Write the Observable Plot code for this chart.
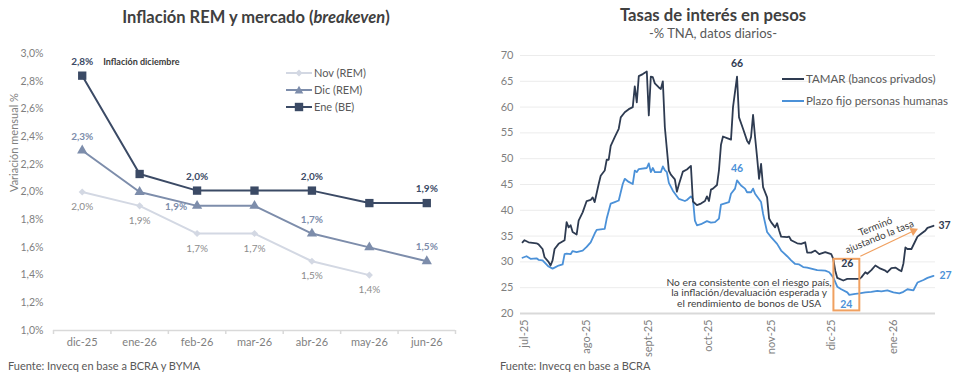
<!DOCTYPE html>
<html><head><meta charset="utf-8">
<script src="https://cdn.jsdelivr.net/npm/d3@7"></script>
<script src="https://cdn.jsdelivr.net/npm/@observablehq/plot@0.6"></script>
<style>
body{margin:0;background:#fff;font-family:Lato,"Open Sans",sans-serif;}
#wrap{position:relative;width:965px;height:388px;overflow:hidden;background:#fff;}
.abs{position:absolute;white-space:nowrap;}
.ttl{font-weight:700;color:#404040;text-align:center;}
.src{font-size:11px;color:#595959;}
.leg{font-size:11px;color:#595959;display:flex;align-items:center;}
.leg svg{margin-right:2px;}
</style></head><body><div id="wrap"></div>
<script>
// ---------- Left chart data ----------
const months = ["dic-25","ene-26","feb-26","mar-26","abr-26","may-26","jun-26"];
const novREM = [2.0, 1.9, 1.7, 1.7, 1.5, 1.4, null];
const dicREM = [2.3, 2.0, 1.9, 1.9, 1.7, 1.6, 1.5];
const eneBE  = [2.84, 2.13, 2.01, 2.01, 2.01, 1.92, 1.92];
const leftYTicks = [1.0, 1.2, 1.4, 1.6, 1.8, 2.0, 2.2, 2.4, 2.6, 2.8, 3.0];
const seriesNames = ["Nov (REM)", "Dic (REM)", "Ene (BE)"];
// labelled points (month indexes)
const novLabels = [0, 1, 2, 3, 4, 5];
const dicLabelsAbove = [0, 4, 6];
const dicLabelsLeft = [2];
const eneLabels = [0, 2, 4, 6];

// ---------- Right chart data ----------
const monthTicks = ["2025-07-01","2025-08-01","2025-09-01","2025-10-01","2025-11-01","2025-12-01","2026-01-01"];
const monthTickLabels = ["jul-25","ago-25","sept-25","oct-25","nov-25","dic-25","ene-26"];
const rightYTicks = [20, 25, 30, 35, 40, 45, 50, 55, 60, 65, 70];
const tamar = [
["2025-06-30",33.8],["2025-07-01",34.2],["2025-07-03",33.8],["2025-07-07",33.6],["2025-07-08",33.4],
["2025-07-10",32.5],["2025-07-11",30.9],["2025-07-13",30.0],["2025-07-14",29.3],["2025-07-15",30.3],
["2025-07-16",32.5],["2025-07-18",33.5],["2025-07-21",34.2],["2025-07-22",37.7],["2025-07-23",36.7],
["2025-07-24",37.1],["2025-07-25",35.8],["2025-07-27",35.3],["2025-07-28",38.0],["2025-07-30",39.6],
["2025-08-01",41.8],["2025-08-03",42.0],["2025-08-04",42.5],["2025-08-05",41.6],["2025-08-07",45.1],
["2025-08-08",46.7],["2025-08-10",47.7],["2025-08-11",49.8],["2025-08-12",49.8],["2025-08-13",52.5],
["2025-08-15",54.2],["2025-08-17",55.8],["2025-08-18",58.0],["2025-08-20",59.0],["2025-08-22",59.6],
["2025-08-24",60.0],["2025-08-25",64.0],["2025-08-26",60.9],["2025-08-27",66.0],["2025-08-29",66.4],
["2025-08-31",66.9],["2025-09-01",58.4],["2025-09-02",65.9],["2025-09-03",65.8],["2025-09-04",64.6],
["2025-09-06",63.8],["2025-09-07",63.5],["2025-09-08",65.0],["2025-09-09",56.1],["2025-09-11",47.7],
["2025-09-12",46.9],["2025-09-14",46.0],["2025-09-15",43.6],["2025-09-16",45.0],["2025-09-18",47.5],
["2025-09-20",47.9],["2025-09-22",48.6],["2025-09-23",41.7],["2025-09-25",41.0],["2025-09-27",41.3],
["2025-09-29",41.8],["2025-09-30",42.7],["2025-10-01",41.8],["2025-10-02",44.0],["2025-10-03",44.2],
["2025-10-05",44.9],["2025-10-06",47.8],["2025-10-07",52.7],["2025-10-08",54.3],["2025-10-10",54.0],
["2025-10-12",53.7],["2025-10-13",60.0],["2025-10-15",65.9],["2025-10-16",58.0],["2025-10-18",55.8],
["2025-10-20",53.5],["2025-10-21",52.9],["2025-10-22",54.2],["2025-10-23",58.5],["2025-10-24",54.2],
["2025-10-25",50.3],["2025-10-26",46.1],["2025-10-27",49.0],["2025-10-28",44.5],["2025-10-30",42.5],
["2025-10-31",38.4],["2025-11-01",37.7],["2025-11-03",36.7],["2025-11-04",37.5],["2025-11-05",36.1],
["2025-11-06",34.9],["2025-11-09",34.8],["2025-11-10",34.9],["2025-11-11",34.2],["2025-11-14",33.6],
["2025-11-16",33.5],["2025-11-18",33.8],["2025-11-19",31.8],["2025-11-21",31.8],["2025-11-23",32.2],
["2025-11-25",31.5],["2025-11-28",31.9],["2025-12-01",31.5],["2025-12-02",30.6],["2025-12-03",28.3],
["2025-12-04",26.9],["2025-12-07",26.4],["2025-12-09",26.7],["2025-12-13",26.7],["2025-12-15",26.7],
["2025-12-16",27.0],["2025-12-18",28.0],["2025-12-19",27.7],["2025-12-21",28.4],["2025-12-23",29.3],
["2025-12-25",28.8],["2025-12-28",28.3],["2025-12-29",28.0],["2025-12-31",28.8],["2026-01-02",28.9],
["2026-01-04",28.4],["2026-01-05",28.2],["2026-01-06",29.7],["2026-01-07",32.8],["2026-01-08",32.5],
["2026-01-10",32.5],["2026-01-12",34.1],["2026-01-13",34.9],["2026-01-15",35.5],["2026-01-17",36.1],
["2026-01-18",36.6],["2026-01-21",37.0]
];
const plazoFijo = [
["2025-06-30",30.8],["2025-07-02",31.1],["2025-07-04",30.6],["2025-07-07",30.7],["2025-07-08",30.4],
["2025-07-10",30.3],["2025-07-13",29.1],["2025-07-15",28.7],["2025-07-16",28.9],["2025-07-18",29.3],
["2025-07-20",29.5],["2025-07-21",31.5],["2025-07-22",31.6],["2025-07-24",31.5],["2025-07-25",32.1],
["2025-07-27",31.9],["2025-07-30",32.2],["2025-08-01",32.9],["2025-08-03",33.8],["2025-08-05",35.5],
["2025-08-06",36.2],["2025-08-10",36.4],["2025-08-11",38.4],["2025-08-13",41.3],["2025-08-15",41.6],
["2025-08-17",41.9],["2025-08-19",45.1],["2025-08-20",46.1],["2025-08-22",45.5],["2025-08-24",45.1],
["2025-08-25",47.7],["2025-08-26",47.4],["2025-08-27",48.0],["2025-08-31",48.2],["2025-09-01",49.1],
["2025-09-02",47.4],["2025-09-03",48.2],["2025-09-04",47.4],["2025-09-07",47.4],["2025-09-08",48.5],
["2025-09-09",47.8],["2025-09-10",47.4],["2025-09-11",45.3],["2025-09-13",43.8],["2025-09-16",42.2],
["2025-09-19",41.8],["2025-09-20",42.0],["2025-09-22",42.7],["2025-09-23",42.2],["2025-09-24",38.0],
["2025-09-25",37.1],["2025-09-27",37.3],["2025-09-30",37.9],["2025-10-02",37.6],["2025-10-04",37.7],
["2025-10-06",38.4],["2025-10-07",41.1],["2025-10-11",41.6],["2025-10-12",43.2],["2025-10-14",44.2],
["2025-10-15",45.8],["2025-10-17",44.8],["2025-10-19",44.2],["2025-10-20",43.5],["2025-10-22",43.5],
["2025-10-23",44.2],["2025-10-24",43.2],["2025-10-27",41.6],["2025-10-28",39.3],["2025-10-30",35.8],
["2025-11-01",34.8],["2025-11-04",33.5],["2025-11-06",32.2],["2025-11-09",31.1],["2025-11-11",30.3],
["2025-11-13",29.6],["2025-11-15",29.5],["2025-11-17",29.0],["2025-11-19",28.9],["2025-11-24",28.4],
["2025-11-28",28.3],["2025-11-30",28.0],["2025-12-02",27.0],["2025-12-04",25.2],["2025-12-06",24.7],
["2025-12-09",24.1],["2025-12-10",23.6],["2025-12-13",23.8],["2025-12-15",23.9],["2025-12-18",24.1],
["2025-12-21",24.2],["2025-12-24",24.4],["2025-12-26",24.3],["2025-12-29",24.5],["2026-01-01",24.1],
["2026-01-04",23.9],["2026-01-06",24.2],["2026-01-08",24.7],["2026-01-11",24.5],["2026-01-13",26.0],
["2026-01-16",26.5],["2026-01-18",26.9],["2026-01-21",27.3]
];
// annotation data
const tamarPeakDate = "2025-10-15", tamarMinDate = "2025-12-07", lastDate = "2026-01-21";
const pfPeakDate = "2025-10-15", pfMinDate = "2025-12-10";
const boxRange = {x1:"2025-12-02T08:00", x2:"2025-12-15T06:00", y1:20.5, y2:30.5};
const arrowPts = {x1:"2025-12-15T12:00", y1:31.1, x2:"2026-01-11", y2:36.0};
const arrowText = {x:"2025-12-24", y:35.9, text:"Terminó\najustando la tasa"};
const noteText = {x:"2025-10-21", y:24.0, text:"No era consistente con el riesgo país,\nla inflación/devaluación esperada y\nel rendimiento de bonos de USA"};

// ---------- colors ----------
const cNov = "#d3d8e3", cDic = "#7d8dab", cEne = "#3b4a65";
const cTamar = "#2e3b51", cPF = "#4b91d8", cOrange = "#f0a060";
const gray = "#7f7f7f";

const wrap = document.getElementById("wrap");
function addDiv(html, cls, style){const d=document.createElement("div");d.className="abs "+cls;d.innerHTML=html;Object.assign(d.style,style);wrap.appendChild(d);return d;}

// ---------- Left chart ----------
const rows = [];
[novREM, dicREM, eneBE].forEach((vals, s) => vals.forEach((v, i) => { if (v != null) rows.push({s, i, v}); }));
const sRows = s => rows.filter(r => r.s === s);
const pct = v => v.toFixed(1).replace(".", ",") + "%";
const idx = months.map((m, i) => i);
const bounds = [...idx.map(i => i - 0.5), idx.length - 0.5];
const pick = (s, list) => sRows(s).filter(r => list.includes(r.i));
const lbl = {x: "i", y: "v", text: d => pct(d.v), fontSize: 10};

const left = Plot.plot({
  width: 480, height: 388,
  marginLeft: 53, marginRight: 25, marginTop: 53, marginBottom: 58,
  style: {fontFamily: "Lato, sans-serif", fontSize: "11px", color: gray, background: "transparent"},
  x: {type: "linear", domain: [-0.5, 6.5]},
  y: {domain: [1.0, 3.0]},
  marks: [
    Plot.ruleY([1.0], {stroke: "#d9d9d9", strokeWidth: 1.5}),
    Plot.axisX({ticks: bounds, tickFormat: () => "", tickSize: 4, stroke: "#d9d9d9", strokeWidth: 1.5, label: null}),
    Plot.axisX({ticks: idx, tickFormat: i => months[i], tickSize: 0, tickPadding: 8, fontSize: 11, fill: gray, label: null}),
    Plot.axisY({ticks: leftYTicks, tickFormat: pct, tickSize: 0, tickPadding: 10, fontSize: 10.5, fill: gray, label: null}),
    Plot.text(["Variación mensual %"], {frameAnchor: "left", rotate: -90, dx: -39, fontSize: 11, fill: gray}),
    Plot.line(sRows(0), {x: "i", y: "v", stroke: cNov, strokeWidth: 2}),
    Plot.dot(sRows(0), {x: "i", y: "v", symbol: "diamond2", r: 3.2, fill: cNov}),
    Plot.line(sRows(1), {x: "i", y: "v", stroke: cDic, strokeWidth: 2}),
    Plot.dot(sRows(1), {x: "i", y: "v", symbol: "triangle", r: 3.8, fill: cDic}),
    Plot.line(sRows(2), {x: "i", y: "v", stroke: cEne, strokeWidth: 2}),
    Plot.dot(sRows(2), {x: "i", y: "v", symbol: "square", r: 4.7, fill: cEne}),
    Plot.text(pick(0, novLabels), {...lbl, dy: 15, fill: "#8c8c8c"}),
    Plot.text(pick(1, dicLabelsAbove), {...lbl, dy: -14, fontWeight: 700, fill: cDic}),
    Plot.text(pick(1, dicLabelsLeft), {...lbl, dx: -21, dy: 1, fontWeight: 700, fill: cDic}),
    Plot.text(pick(2, eneLabels), {...lbl, dy: -14, fontWeight: 700, fill: cEne}),
    Plot.text(pick(2, [0]), {x: "i", y: "v", text: () => "Inflación diciembre", textAnchor: "start", dx: 21, dy: -14, fontSize: 9, fontWeight: 700, fill: "#3a3a3a"})
  ]
});
left.style.position = "absolute"; left.style.left = "0px"; left.style.top = "0px";
wrap.appendChild(left);

// ---------- Right chart ----------
const parse = s => new Date(s.length > 10 ? s : s + "T00:00");
const tRows = tamar.map(([d, v]) => ({d: parse(d), v}));
const pRows = plazoFijo.map(([d, v]) => ({d: parse(d), v}));
const tickDates = monthTicks.map(parse);
const tickLab = new Map(tickDates.map((d, i) => [+d, monthTickLabels[i]]));
const at = (rowsArr, s) => rowsArr.filter(r => +r.d === +parse(s));
const box = {x1: parse(boxRange.x1), x2: parse(boxRange.x2), y1: boxRange.y1, y2: boxRange.y2};
const arr = {x1: parse(arrowPts.x1), y1: arrowPts.y1, x2: parse(arrowPts.x2), y2: arrowPts.y2};
const numLbl = (fill) => ({x: "d", y: "v", text: d => String(Math.round(d.v)), fontSize: 10.5, fontWeight: 700, fill});

const right = Plot.plot({
  width: 485, height: 388,
  marginLeft: 40, marginRight: 30, marginTop: 55, marginBottom: 75,
  style: {fontFamily: "Lato, sans-serif", fontSize: "11px", color: gray, background: "transparent"},
  x: {type: "time", domain: [parse("2025-06-29"), parse("2026-01-22")]},
  y: {domain: [20, 70]},
  marks: [
    Plot.gridY(rightYTicks.slice(1), {stroke: "#ececec", strokeOpacity: 1}),
    Plot.ruleY([20], {stroke: "#d9d9d9", strokeWidth: 2}),
    Plot.axisY({ticks: rightYTicks, tickSize: 0, tickPadding: 7, fontSize: 11, fill: gray, label: null}),
    Plot.axisX({ticks: tickDates, tickFormat: d => tickLab.get(+d), tickRotate: -90, tickSize: 0, tickPadding: 6, fontSize: 11, fill: gray, label: null}),
    Plot.line(pRows, {x: "d", y: "v", stroke: cPF, strokeWidth: 1.8}),
    Plot.line(tRows, {x: "d", y: "v", stroke: cTamar, strokeWidth: 1.8}),
    Plot.rect([box], {x1: "x1", x2: "x2", y1: "y1", y2: "y2", fill: "none", stroke: cOrange, strokeWidth: 2}),
    Plot.link([arr], {x1: "x1", y1: "y1", x2: "x2", y2: "y2", stroke: cOrange, strokeWidth: 1.2}),
    Plot.dot([arr], {x: "x2", y: "y2", symbol: "triangle", r: 3.2, fill: cOrange, rotate: 65}),
    Plot.text([arrowText], {x: d => parse(d.x), y: "y", text: "text", rotate: -22, fontSize: 10, fill: "#404040", lineHeight: 1.1}),
    Plot.text([noteText], {x: d => parse(d.x), y: "y", text: "text", fontSize: 10.2, fill: "#404040", lineHeight: 1.03}),
    Plot.text(at(tRows, tamarPeakDate), {...numLbl(cTamar), dy: -13}),
    Plot.text(at(tRows, tamarMinDate), {...numLbl(cTamar), dx: 4, dy: -17}),
    Plot.text(at(tRows, lastDate), {...numLbl(cTamar), textAnchor: "start", dx: 5}),
    Plot.text(at(pRows, pfPeakDate), {...numLbl(cPF), dy: -12}),
    Plot.text(at(pRows, pfMinDate), {...numLbl(cPF), dx: -3, dy: 10}),
    Plot.text(at(pRows, lastDate), {...numLbl(cPF), textAnchor: "start", dx: 6})
  ]
});
right.style.position = "absolute"; right.style.left = "480px"; right.style.top = "0px";
wrap.appendChild(right);

// ---------- Titles, legends, sources ----------
addDiv("Inflación REM y mercado (<i>breakeven</i>)", "ttl", {left: "0px", width: "512px", top: "7px", fontSize: "16.5px"});
addDiv("Tasas de interés en pesos", "ttl", {left: "513px", width: "400px", top: "5px", fontSize: "16.7px"});
addDiv("-% TNA, datos diarios-", "ttl", {left: "513px", width: "400px", top: "25px", fontSize: "13px", fontWeight: "400", color: "#595959"});
addDiv("Fuente: Invecq en base a BCRA y BYMA", "src", {left: "8px", top: "359px"});
addDiv("Fuente: Invecq en base a BCRA", "src", {left: "500px", top: "359px"});

const sym = {
  0: `<path d="M13,1.5 L16.5,5 L13,8.5 L9.5,5Z" fill="${cNov}"/>`,
  1: `<path d="M13,0.8 L17.3,8.5 L8.7,8.5Z" fill="${cDic}"/>`,
  2: `<rect x="8.8" y="0.8" width="8.4" height="8.4" fill="${cEne}"/>`
};
const legCols = [cNov, cDic, cEne];
seriesNames.forEach((n, s) => {
  addDiv(`<svg width="26" height="10"><line x1="0" y1="5" x2="26" y2="5" stroke="${legCols[s]}" stroke-width="2"/>${sym[s]}</svg>${n}`,
    "leg", {left: "286px", top: (66 + s * 17) + "px"});
});
[["TAMAR (bancos privados)", cTamar], ["Plazo fijo personas humanas", cPF]].forEach(([n, c], s) => {
  addDiv(`<svg width="22" height="10"><line x1="0" y1="5" x2="22" y2="5" stroke="${c}" stroke-width="2"/></svg>${n}`,
    "leg", {left: "782px", top: (72 + s * 22) + "px", fontSize: "11.5px"});
});
</script></body></html>
